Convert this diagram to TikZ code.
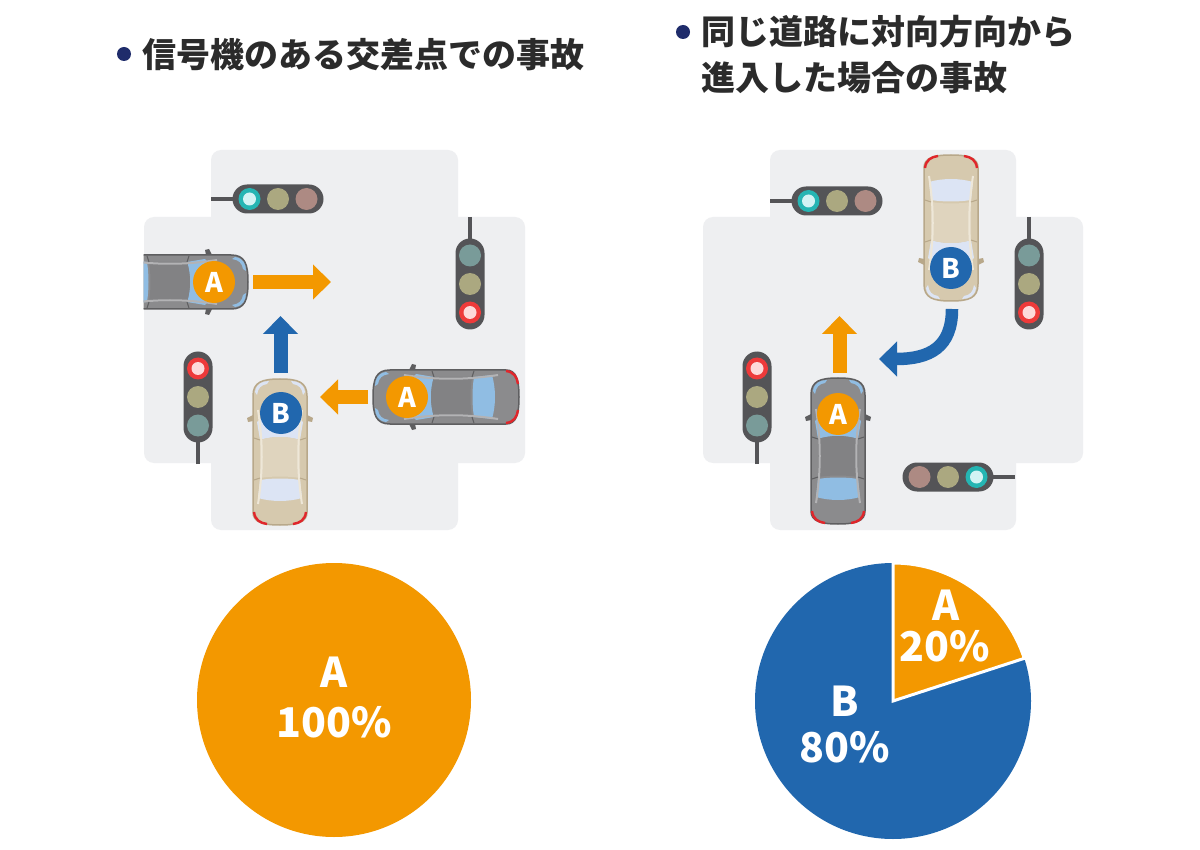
\documentclass[tikz,border=0pt]{standalone}
\usepackage{fontspec}
\newfontfamily\cjk{Noto Sans CJK JP}
\usetikzlibrary{arrows.meta}
\definecolor{roadc}{HTML}{EEEFF1}
\definecolor{orangec}{HTML}{F39800}
\definecolor{bluec}{HTML}{2167AE}
\definecolor{navyc}{HTML}{1F2C6B}
\definecolor{titlec}{HTML}{2B2B2B}
\definecolor{tlbody}{HTML}{545457}
\definecolor{cyanring}{HTML}{25B5B3}
\definecolor{cyanin}{HTML}{D3F3F4}
\definecolor{redring}{HTML}{EE3A3A}
\definecolor{redin}{HTML}{FDDADA}
\definecolor{offgreen}{HTML}{799B99}
\definecolor{offyellow}{HTML}{ABA880}
\definecolor{offred}{HTML}{AD8A83}
\definecolor{gbody}{HTML}{8B8B8D}
\definecolor{gline}{HTML}{5E5E60}
\definecolor{groof}{HTML}{828284}
\definecolor{gglass}{HTML}{90BDE3}
\definecolor{gstripe}{HTML}{B3B3B5}
\definecolor{tbody}{HTML}{D6C9AE}
\definecolor{tline}{HTML}{B8A88A}
\definecolor{troof}{HTML}{DFD4BE}
\definecolor{tglass}{HTML}{DCE4F4}
\definecolor{tstripe}{HTML}{EEE7D8}
\definecolor{taillight}{HTML}{E0262B}
\tikzset{
  pics/tlight/.style n args={3}{code={
    \draw[tlbody,line width=4pt] (-67,0) -- (-44,0);
    \fill[tlbody,rounded corners=14.5pt] (-45.5,-14.5) rectangle (45.5,14.5);
    \foreach \xx/\cc in {-28.5/#1,0/#2,28.5/#3}{
      \ifx\cc\onCyan
        \fill[cyanring] (\xx,0) circle[radius=11];
        \fill[cyanin] (\xx,0) circle[radius=6.5];
      \else\ifx\cc\onRed
        \fill[redring] (\xx,0) circle[radius=11];
        \fill[redin] (\xx,0) circle[radius=6.5];
      \else
        \fill[\cc] (\xx,0) circle[radius=11];
      \fi\fi
    }
  }},
  pics/car/.style n args={5}{code={
    \path[fill=#1,draw=#2,line width=1.5pt] (-27,-56) .. controls (-27,-70) and (-18,-73) .. (0,-73) .. controls (18,-73) and (27,-70) .. (27,-56) -- (27,60) .. controls (27,70) and (18,73) .. (0,73) .. controls (-18,73) and (-27,70) .. (-27,60) -- cycle;
    \fill[#2] (-27,-37) -- (-33,-34) -- (-32,-30) -- (-27,-31) -- cycle;
    \fill[#2] (27,-37) -- (33,-34) -- (32,-30) -- (27,-31) -- cycle;
    \fill[#4] (-25,-60) .. controls (-24,-68) and (-18,-71) .. (-11,-71) -- (-13,-68) .. controls (-19,-67) and (-22,-64) .. (-23,-57) -- cycle;
    \fill[#4] (25,-60) .. controls (24,-68) and (18,-71) .. (11,-71) -- (13,-68) .. controls (19,-67) and (22,-64) .. (23,-57) -- cycle;
    \fill[#4] (-23,-30) .. controls (-10,-42) and (10,-42) .. (23,-30) -- (20,-12) .. controls (8,-16) and (-8,-16) .. (-20,-12) -- cycle;
    \fill[#3] (-20,-12) .. controls (-8,-16) and (8,-16) .. (20,-12) -- (20,26) .. controls (8,24) and (-8,24) .. (-20,26) -- cycle;
    \fill[#4] (-20,28) .. controls (-8,26) and (8,26) .. (20,28) -- (22,46) .. controls (8,50) and (-8,50) .. (-22,46) -- cycle;
    \draw[#5,line width=2pt] (-22,-42) .. controls (-17,-10) and (-17,20) .. (-22,52);
    \draw[#5,line width=2pt] (22,-42) .. controls (17,-10) and (17,20) .. (22,52);
    \draw[#2,line width=1pt] (-20,-12) -- (-26,-14) (20,-12) -- (26,-14) (-20,26) -- (-26,28) (20,26) -- (26,28);
    \draw[taillight,line width=2.4pt] (-26,60) .. controls (-25,68) and (-20,71) .. (-13,72);
    \draw[taillight,line width=2.4pt] (26,60) .. controls (25,68) and (20,71) .. (13,72);
  }},
  badge/.style={circle,fill=#1,minimum size=42pt,inner sep=0pt,text=white,font=\cjk\bfseries\fontsize{27}{27}\selectfont},
  movearrow/.style={draw=#1,line width=14pt,-{Triangle[width=34pt,length=18pt]}},
  pielabel/.style={text=white,font=\cjk\bfseries\fontsize{41}{41}\selectfont,inner sep=0pt},
  titletext/.style={text=titlec,font=\cjk\bfseries\fontsize{34}{46}\selectfont,inner sep=0pt,anchor=west,align=left},
  bulletdot/.style={circle,fill=navyc,minimum size=14pt,inner sep=0pt}
}
\def\onCyan{onCyan}
\def\onRed{onRed}
\begin{document}
\begin{tikzpicture}[x=1pt,y=-1pt]
\useasboundingbox (0,0) rectangle (1200,850);
\fill[white] (0,0) rectangle (1200,850);
% ---------- titles
\node[bulletdot] (b1) at (124,54) {};
\node[titletext] (t1) at (142,55) {信号機のある交差点での事故};
\node[bulletdot] (b2) at (683,32) {};
\node[titletext,anchor=north west] (t2) at (701,15) {同じ道路に対向方向から\\進入した場合の事故};
% ---------- left panel roads
\fill[roadc,rounded corners=10pt] (211,150) rectangle (458,530);
\fill[roadc,rounded corners=10pt] (144,217) rectangle (525,463);
% traffic lights
\pic at (278,199) {tlight={onCyan}{offyellow}{offred}};
\pic[rotate=-90] at (470,284) {tlight={offgreen}{offyellow}{onRed}};
\pic[rotate=90] at (198,397) {tlight={offgreen}{offyellow}{onRed}};
% cars
\begin{scope}
  \clip (143.5,0) rectangle (1200,850);
  \pic[rotate=-90] at (175,282) {car={gbody}{gline}{groof}{gglass}{gstripe}};
\end{scope}
\pic[rotate=90] at (446,397) {car={gbody}{gline}{groof}{gglass}{gstripe}};
\pic at (280,452) {car={tbody}{tline}{troof}{tglass}{tstripe}};
% arrows
\coordinate (a1s) at (253,282); \coordinate (a1e) at (331,282);
\draw[movearrow=orangec] (a1s) -- (a1e);
\coordinate (a2s) at (280.5,373); \coordinate (a2e) at (280.5,316);
\draw[movearrow=bluec] (a2s) -- (a2e);
\coordinate (a3s) at (368,397); \coordinate (a3e) at (320,397);
\draw[movearrow=orangec] (a3s) -- (a3e);
% badges
\node[badge=orangec] (lA1) at (214,282) {A};
\node[badge=orangec] (lA2) at (407,397) {A};
\node[badge=bluec] (lB) at (281,413) {B};
% ---------- right panel roads
\fill[roadc,rounded corners=10pt] (770,150) rectangle (1016,530);
\fill[roadc,rounded corners=10pt] (703,217) rectangle (1083,463);
\pic at (837,201) {tlight={onCyan}{offyellow}{offred}};
\pic[rotate=-90] at (1029,284) {tlight={offgreen}{offyellow}{onRed}};
\pic[rotate=90] at (757,397) {tlight={offgreen}{offyellow}{onRed}};
\pic[rotate=180] at (948,477) {tlight={onCyan}{offyellow}{offred}};
\pic[rotate=180] at (951,228) {car={tbody}{tline}{troof}{tglass}{tstripe}};
\pic at (838,451) {car={gbody}{gline}{groof}{gglass}{gstripe}};
\coordinate (a4s) at (839.5,373); \coordinate (a4e) at (839.5,316);
\draw[movearrow=orangec] (a4s) -- (a4e);
\coordinate (a5s) at (952,309); \coordinate (a5e) at (879,359);
\draw[movearrow=bluec,line width=12.5pt] (a5s) .. controls (952,347) and (930,359) .. (a5e);
\node[badge=bluec] (rB) at (951,268) {B};
\node[badge=orangec] (rA) at (838,414) {A};
% ---------- pies
\fill[orangec] (334,700) circle[radius=137];
\node[pielabel] (p1a) at (334,672) {A};
\node[pielabel] (p1b) at (334,722) {100\%};
\fill[bluec] (893,701) circle[radius=138];
\filldraw[fill=orangec,draw=white,line width=3pt,line join=miter] (893,701) -- (893,563) arc[start angle=-90,end angle=-18,radius=138] -- cycle;
\node[pielabel] (p2a) at (946,605) {A};
\node[pielabel] (p2b) at (945,646) {20\%};
\node[pielabel] (p2c) at (845,701) {B};
\node[pielabel] (p2d) at (845,747) {80\%};
\end{tikzpicture}
\end{document}
